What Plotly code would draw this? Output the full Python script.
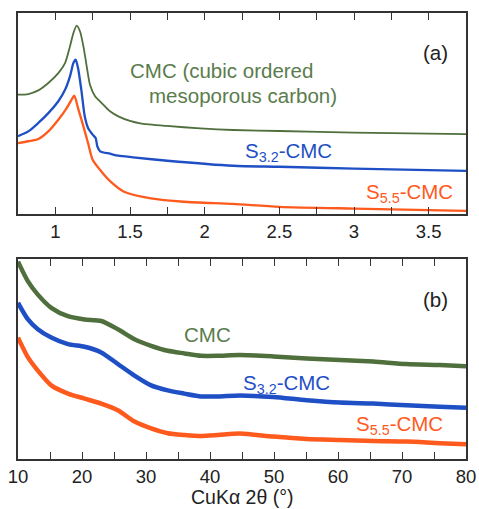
import plotly.graph_objects as go

# ---- panel (a): small-angle XRD, 2theta (deg) vs intensity (a.u.) ----
a_cmc_x = [0.75, 0.819, 0.886, 0.953, 1.020, 1.065, 1.098, 1.121, 1.143, 1.165, 1.188, 1.21, 1.232, 1.266, 1.31, 1.366, 1.422, 1.50, 1.569, 1.748, 1.97, 2.19, 2.5, 3.0, 3.75]
a_cmc_y = [59.4, 59.7, 61.5, 65.2, 70.1, 75.1, 83.4, 90.0, 93.7, 90.9, 83.4, 73.5, 64.3, 58.6, 55.2, 51.1, 48.6, 46.3, 45.1, 43.8, 42.6, 41.8, 41.3, 40.5, 39.7]

a_s32_x = [0.75, 0.819, 0.886, 0.953, 1.020, 1.065, 1.098, 1.121, 1.136, 1.152, 1.174, 1.197, 1.219, 1.25, 1.27, 1.281, 1.30, 1.366, 1.422, 1.52, 1.75, 2.19, 2.5, 3.0, 3.75]
a_s32_y = [38.7, 41.1, 45.3, 50.2, 56.1, 61.8, 68.5, 75.1, 76.8, 72.6, 61.8, 48.6, 42.8, 39.5, 37.8, 33.7, 31.2, 30.0, 29.0, 28.2, 26.5, 24.0, 23.5, 22.6, 21.5]

a_s55_x = [0.75, 0.819, 0.886, 0.953, 1.020, 1.076, 1.109, 1.127, 1.152, 1.188, 1.219, 1.25, 1.30, 1.37, 1.46, 1.64, 1.86, 2.19, 2.5, 3.0, 3.75]
a_s55_y = [35.3, 36.2, 37.3, 41.1, 46.9, 52.7, 56.9, 58.9, 52.7, 43.6, 35.3, 27.0, 21.9, 16.1, 11.1, 7.8, 6.1, 5.0, 3.6, 2.7, 1.6]

# ---- panel (b): wide-angle XRD ----
b_x = [10, 11.56, 13.1, 15.2, 17.8, 20.4, 23.0, 25.6, 28.2, 30.8, 33.4, 36.0, 38.6, 41.25, 44.7, 49.9, 55.1, 60.3, 65.5, 70.7, 75.9, 80]
b_cmc_y = [98.7, 88.8, 82.2, 75.6, 71.4, 69.8, 69.0, 64.9, 59.9, 56.6, 54.1, 52.8, 51.6, 51.6, 52.0, 51.3, 50.3, 49.5, 48.7, 47.5, 47.0, 46.4]
b_s32_y = [78.1, 69.8, 64.9, 60.7, 57.4, 56.1, 53.3, 47.5, 41.7, 36.8, 34.3, 32.7, 31.3, 31.3, 31.8, 31.0, 29.4, 28.2, 27.7, 26.9, 26.1, 25.6]
b_s55_y = [60.7, 50.8, 44.2, 36.8, 32.7, 30.2, 27.7, 24.4, 18.7, 15.3, 12.9, 12.0, 11.5, 12.0, 12.8, 11.2, 10.0, 9.5, 9.0, 8.7, 7.9, 7.4]

a_ticks = [0.75, 1, 1.25, 1.5, 1.75, 2, 2.25, 2.5, 2.75, 3, 3.25, 3.5, 3.75]
a_ticklabels = ["", "1", "", "1.5", "", "2", "", "2.5", "", "3", "", "3.5", ""]
b_ticks = [10, 15, 20, 25, 30, 35, 40, 45, 50, 55, 60, 65, 70, 75, 80]
b_ticklabels = ["10", "", "20", "", "30", "", "40", "", "50", "", "60", "", "70", "", "80"]
x_title = "CuKα 2θ (°)"

GREEN = "#4f6f3c"
GREEN_T = "#5a7c4c"
BLUE = "#1f4fc4"
ORANGE = "#ff5a1e"
FONT = "Liberation Sans, Arial, sans-serif"
FS_TICK = 18.5
FS = 20.5
FS_TITLE = 19.5

fig = go.Figure()
def add(x, y, color, width, xa, ya):
    fig.add_trace(go.Scatter(x=x, y=y, mode="lines",
                             line=dict(color=color, width=width, shape="spline", smoothing=0.7),
                             xaxis=xa, yaxis=ya))

add(a_cmc_x, a_cmc_y, GREEN, 1.8, "x", "y")
add(a_s32_x, a_s32_y, BLUE, 2.3, "x", "y")
add(a_s55_x, a_s55_y, ORANGE, 2.3, "x", "y")
add(b_x, b_cmc_y, GREEN, 4.5, "x2", "y2")
add(b_x, b_s32_y, BLUE, 4.5, "x2", "y2")
add(b_x, b_s55_y, ORANGE, 4.5, "x2", "y2")

axis_common = dict(showline=True, linecolor="#333333", linewidth=1.5, mirror="ticks",
                   ticks="inside", ticklen=7, tickwidth=1.3, tickcolor="#333333",
                   showgrid=False, zeroline=False, automargin=False,
                   tickfont=dict(family=FONT, size=FS_TICK, color="#222222"))
yaxis_common = dict(showline=True, linecolor="#333333", linewidth=1.5, mirror=True,
                    ticks="", showticklabels=False, showgrid=False, zeroline=False,
                    automargin=False)

fig.update_layout(
    width=479, height=509,
    margin=dict(l=18, r=13, t=13, b=50),
    paper_bgcolor="white", plot_bgcolor="white",
    showlegend=False,
    xaxis=dict(range=[0.75, 3.75], tickvals=a_ticks, ticktext=a_ticklabels, anchor="y", **axis_common),
    yaxis=dict(range=[0, 100], domain=[0.5493, 1], anchor="x", **yaxis_common),
    xaxis2=dict(range=[10, 80], tickvals=b_ticks, ticktext=b_ticklabels, anchor="y2", **axis_common),
    yaxis2=dict(range=[0, 100], domain=[0, 0.4484], anchor="x2", **yaxis_common),
)

annots = [
    ("x", "y", 1.485, 71.6, "CMC (cubic ordered", GREEN_T),
    ("x", "y", 1.612, 59.2, "mesoporous carbon)", GREEN_T),
    ("x", "y", 2.255, 31.0, "S<sub>3.2</sub>-CMC", BLUE),
    ("x", "y", 3.07, 10.5, "S<sub>5.5</sub>-CMC", ORANGE),
    ("x", "y", 3.45, 80.6, "(a)", "#222222"),
    ("x2", "y2", 35.6, 62.5, "CMC", GREEN_T),
    ("x2", "y2", 44.8, 37.6, "S<sub>3.2</sub>-CMC", BLUE),
    ("x2", "y2", 62.5, 17.0, "S<sub>5.5</sub>-CMC", ORANGE),
    ("x2", "y2", 73.0, 80.0, "(b)", "#222222"),
]
for xr, yr, x, y, t, c in annots:
    fig.add_annotation(xref=xr, yref=yr, x=x, y=y, text=t, showarrow=False,
                       xanchor="left", yanchor="middle",
                       font=dict(family=FONT, size=FS, color=c))

# x-axis title of the lower panel
fig.add_annotation(xref="x2 domain", yref="paper", x=0.5, y=-0.0845, text=x_title,
                   showarrow=False, xanchor="center", yanchor="middle", borderpad=0,
                   font=dict(family=FONT, size=FS_TITLE, color="#222222"))

fig.write_html("out.html")
